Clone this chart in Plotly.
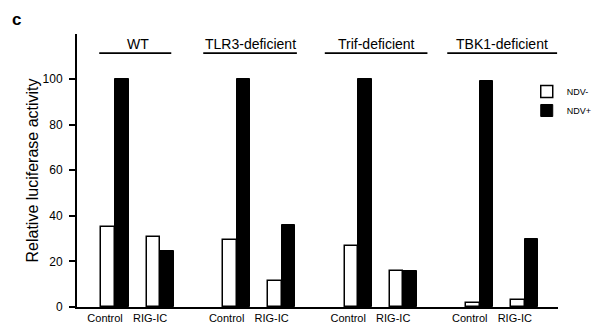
import plotly.graph_objects as go

# ---- data ----
groups = ["WT", "TLR3-deficient", "Trif-deficient", "TBK1-deficient"]
conditions = ["Control", "RIG-IC"]
ndv_minus = [35, 30.7, 29.4, 11.4, 26.8, 15.8, 1.9, 3.0]
ndv_plus = [100, 24.5, 100, 36, 100, 15.8, 99, 29.8]
y_ticks = [0, 20, 40, 60, 80, 100]

# ---- layout helpers ----
GROUP_STEP = 2.7
BAR_W = 0.3
x_pos = [g * GROUP_STEP + c for g in range(len(groups)) for c in range(len(conditions))]
tick_text = [conditions[c] for g in range(len(groups)) for c in range(len(conditions))]
font_family = "Liberation Sans, Arial, sans-serif"

fig = go.Figure()
fig.add_trace(go.Bar(
    x=x_pos, y=ndv_minus, name="NDV-", width=BAR_W, offset=-BAR_W,
    marker=dict(color="white", line=dict(color="black", width=1.5)),
))
fig.add_trace(go.Bar(
    x=x_pos, y=ndv_plus, name="NDV+", width=BAR_W, offset=0,
    marker=dict(color="black", line=dict(color="black", width=1)),
))

underline_half = [0.8, 1.04, 1.14, 1.22]
title_shift = [0.0, -0.2, -0.1, 0.0]
shapes = []
annotations = []
for g, name in enumerate(groups):
    cx = g * GROUP_STEP + 0.5
    annotations.append(dict(x=cx + title_shift[g], y=115.3, xref="x", yref="y", text=name,
                            showarrow=False, font=dict(size=14, color="black", family=font_family)))
    shapes.append(dict(type="line", xref="x", yref="y",
                       x0=cx + (title_shift[g] if g else -0.05) - underline_half[g],
                       x1=cx + (title_shift[g] if g else -0.05) + underline_half[g],
                       y0=111.3, y1=111.3, line=dict(color="black", width=1.8)))

annotations.append(dict(xref="paper", yref="paper", x=-0.125, y=1.094, xanchor="center", yanchor="top",
                        text="<b>c</b>", showarrow=False,
                        font=dict(size=17, color="black", family=font_family)))

# page body has an 8px default margin, so the figure is shifted by 8px; compensate
fig.update_layout(
    width=597, height=325,
    margin=dict(l=69, r=47, t=26, b=26, autoexpand=False),
    paper_bgcolor="white", plot_bgcolor="white",
    font=dict(family=font_family, color="black"),
    showlegend=True,
    legend=dict(x=0.935, y=0.8425, xanchor="left", yanchor="top", font=dict(size=9, color="black"),
                itemwidth=30, tracegroupgap=0, bgcolor="rgba(0,0,0,0)", traceorder="normal"),
    bargap=0,
    shapes=shapes,
    annotations=annotations,
    xaxis=dict(range=[-0.844, 9.84], showline=True, linecolor="black", linewidth=2,
               tickvals=[p - 0.22 for p in x_pos], ticktext=tick_text, ticks="",
               tickfont=dict(size=11, color="black"), showgrid=False, zeroline=False,
               automargin=False),
    yaxis=dict(range=[0, 119.7], showline=True, linecolor="black", linewidth=2,
               tickvals=y_ticks, ticks="outside", ticklen=6, tickwidth=2, tickcolor="black",
               tickfont=dict(size=12, color="black"), showgrid=False, zeroline=False,
               ticklabelstandoff=4, automargin=False,
               title=dict(text="Relative luciferase activity", font=dict(size=16, color="black"),
                          standoff=0)),
)

fig.write_html("out.html")
